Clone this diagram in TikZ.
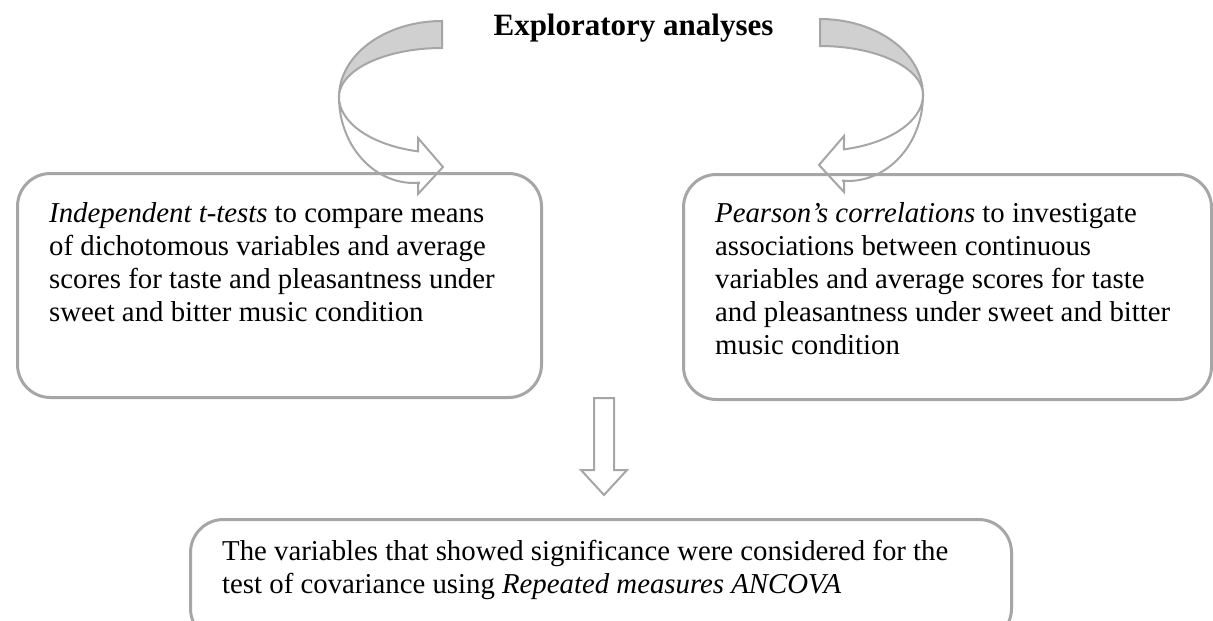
\documentclass[tikz,border=0pt]{standalone}
\usepackage{fontspec}
\setmainfont{Liberation Serif}
\usetikzlibrary{calc}
\definecolor{edge}{RGB}{166,166,166}
\definecolor{backside}{RGB}{208,208,208}
\tikzset{
  box/.style={draw=edge, line width=3pt, rounded corners=33pt, inner sep=0pt, anchor=north west},
  txt/.style={inner sep=0pt, anchor=base west, font=\fontsize{28.8}{33}\selectfont},
  blockarrow/.style={draw=edge, line width=2pt, line join=miter},
}
\newcommand{\boxlines}[1]{\parbox[t]{900pt}{#1}}
\begin{document}
\begin{tikzpicture}[x=1pt,y=-1pt]
\useasboundingbox (0,0) rectangle (1213,621);
\fill[white] (0,0) rectangle (1213,621);

% curved block arrow from the heading down to the left box
\newcommand{\curvedarrow}{%
  \filldraw[blockarrow, fill=backside]
    plot[domain=270:180, samples=40] ({442+103*cos(\x)},{97+76*sin(\x)})
    -- plot[domain=180:270, samples=40] ({442+103*cos(\x)},{97+49*sin(\x)})
    -- cycle;
  \filldraw[blockarrow, fill=white]
    plot[domain=180:103.9, samples=40] ({443+104*cos(\x)},{97+56*sin(\x)})
    -- (418,138) -- (443,167) -- (418,194) -- (418,182.7)
    -- plot[domain=85.4:180, samples=40] ({414+75*cos(\x)},{97+86*sin(\x)})
    -- cycle;
}
\curvedarrow
% its mirror image, down to the right box
\begin{scope}[xshift=1262pt, xscale=-1, yshift=2pt]
\curvedarrow
\end{scope}

% heading
\node[font=\fontsize{31}{36}\selectfont\bfseries, inner sep=0pt, anchor=base] (head) at (633.5,35) {Exploratory analyses};

% three boxes
\node[box, minimum width=524pt, minimum height=224pt] (ttest) at (16,172) {};
\node[box, minimum width=528pt, minimum height=225pt] (pearson) at (682,173) {};
\node[box, minimum width=821pt, minimum height=122pt] (ancova) at (189,518) {};

\node[txt] (ttesttext) at ($(ttest.north west)+(33,50)$)
  {\boxlines{\textit{Independent t-tests} to compare means\\
   of dichotomous variables and average\\
   scores for taste and pleasantness under\\
   sweet and bitter music condition}};
\node[txt] (pearsontext) at ($(pearson.north west)+(33,49)$)
  {\boxlines{\textit{Pearson’s correlations} to investigate\\
   associations between continuous\\
   variables and average scores for taste\\
   and pleasantness under sweet and bitter\\
   music condition}};
\node[txt] (ancovatext) at ($(ancova.north west)+(33,42)$)
  {\boxlines{The variables that showed significance were considered for the\\
   test of covariance using \textit{Repeated measures ANCOVA}}};

% straight block arrow down to the last box
\filldraw[blockarrow, fill=white]
  (594,398) -- (614,398) -- (614,470) -- (627,470)
  -- (604,495) -- (581,470) -- (594,470) -- cycle;
\end{tikzpicture}
\end{document}
